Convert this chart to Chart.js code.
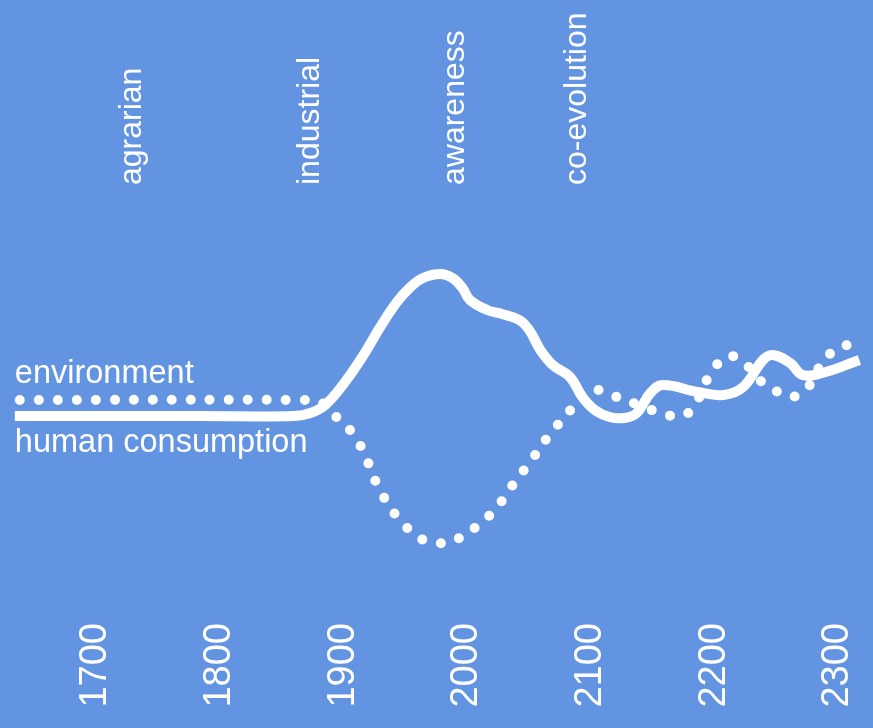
<!DOCTYPE html>
<html>
<head>
<meta charset="utf-8">
<script src="https://cdn.jsdelivr.net/npm/chart.js@4"></script>
<style>
  html, body { margin: 0; padding: 0; background: #6394E1; }
  #wrap { width: 873px; height: 728px; }
</style>
</head>
<body>
<div id="wrap"><canvas id="c" width="873" height="728"></canvas></div>
<script>
// ---- data ----
const yearTicks = [1700, 1800, 1900, 2000, 2100, 2200, 2300];
const phaseNames = ['agrarian', 'industrial', 'awareness', 'co-evolution'];
const phaseYears = [1731, 1875, 1992, 2091];

const consumptionYears = [1636, 1705, 1786, 1862, 1875, 1887, 1903, 1918, 1931, 1945, 1956, 1966, 1980, 1990, 1998, 2004, 2018, 2030, 2044, 2052, 2061, 2071, 2085, 2095, 2105, 2117, 2129, 2139, 2150, 2160, 2188, 2209, 2225, 2241, 2249, 2263, 2273, 2289, 2319];
const consumptionValues = [46, 46, 46, 46, 46.75, 48.75, 54.5, 61.25, 68, 74.5, 78.25, 80.5, 81.5, 80.5, 78, 75, 72.5, 71.5, 70, 67.5, 62.5, 58.75, 55.75, 50.75, 47.5, 45.75, 45.5, 46.75, 51.75, 53.75, 52, 51.25, 53.25, 60, 61.25, 59.25, 56.25, 56.75, 60];

const environmentYears = [1640, 1867, 1883, 1896, 1909, 1918, 1930, 1946, 1965, 1977, 1990, 2010, 2026, 2038, 2055, 2067, 2086, 2097, 2112, 2129, 2139, 2158, 2175, 2185, 2196, 2202, 2214, 2226, 2240, 2253, 2265, 2279, 2285, 2298, 2314];
const environmentValues = [50, 50, 49.5, 45.75, 41.75, 37, 28.25, 20.5, 15.25, 14.25, 14.75, 18.5, 23.25, 28.5, 35.5, 40.75, 47.75, 52, 52.25, 49.75, 49, 46.75, 46, 48.25, 55.25, 58.25, 61, 59.25, 54.5, 52, 50.75, 53.75, 57.5, 62.25, 64.25];

const seriesLabels = [
  { text: 'environment', year: 1636, value: 54.25 },
  { text: 'human consumption', year: 1636, value: 37 }
];

// ---- chart ----
const toPts = (xs, ys) => xs.map((x, i) => ({ x: x, y: ys[i] }));
const FONT = "'Liberation Sans', Arial, sans-serif";

const labelPlugin = {
  id: 'seriesLabels',
  afterDatasetsDraw(chart) {
    const ctx = chart.ctx;
    const xs = chart.scales.x, ys = chart.scales.y;
    ctx.save();
    ctx.fillStyle = '#ffffff';
    ctx.font = '32.5px ' + FONT;
    ctx.textAlign = 'left';
    ctx.textBaseline = 'alphabetic';
    seriesLabels.forEach(l => {
      ctx.fillText(l.text, xs.getPixelForValue(l.year), ys.getPixelForValue(l.value));
    });
    ctx.restore();
  }
};

const noSidePad = s => { s.paddingLeft = 0; s.paddingRight = 0; };

new Chart(document.getElementById('c'), {
  type: 'line',
  data: {
    datasets: [
      {
        label: 'human consumption',
        data: toPts(consumptionYears, consumptionValues),
        borderColor: '#ffffff',
        borderWidth: 10,
        pointRadius: 0,
        tension: 0.4,
        fill: false
      },
      {
        label: 'environment',
        data: toPts(environmentYears, environmentValues),
        borderColor: '#ffffff',
        borderWidth: 10,
        borderDash: [0, 19],
        borderCapStyle: 'round',
        pointRadius: 0,
        tension: 0.4,
        fill: false
      }
    ]
  },
  options: {
    responsive: false,
    animation: false,
    devicePixelRatio: 1,
    layout: { padding: 0 },
    plugins: { legend: { display: false }, tooltip: { enabled: false } },
    scales: {
      x: {
        type: 'linear',
        position: 'bottom',
        min: 1624,
        max: 2330,
        afterBuildTicks: s => { s.ticks = yearTicks.map(v => ({ value: v })); },
        afterFit: s => { s.height = 111; noSidePad(s); },
        grid: { display: false, drawTicks: false },
        border: { display: false },
        ticks: {
          color: '#ffffff',
          font: { family: FONT, size: 38 },
          minRotation: 90,
          maxRotation: 90,
          autoSkip: false,
          padding: 6,
          labelOffset: 2,
          callback: v => String(v)
        }
      },
      xTop: {
        type: 'linear',
        position: 'top',
        min: 1624,
        max: 2330,
        afterBuildTicks: s => { s.ticks = phaseYears.map(v => ({ value: v })); },
        afterFit: s => { s.height = 190; noSidePad(s); },
        grid: { display: false, drawTicks: false },
        border: { display: false },
        ticks: {
          color: '#ffffff',
          font: { family: FONT, size: 32 },
          minRotation: 90,
          maxRotation: 90,
          autoSkip: false,
          padding: 5,
          labelOffset: 38.4,
          callback: v => phaseNames[phaseYears.indexOf(v)]
        }
      },
      y: {
        display: false,
        min: -4.25,
        max: 102.5
      }
    }
  },
  plugins: [labelPlugin]
});
</script>
</body>
</html>
